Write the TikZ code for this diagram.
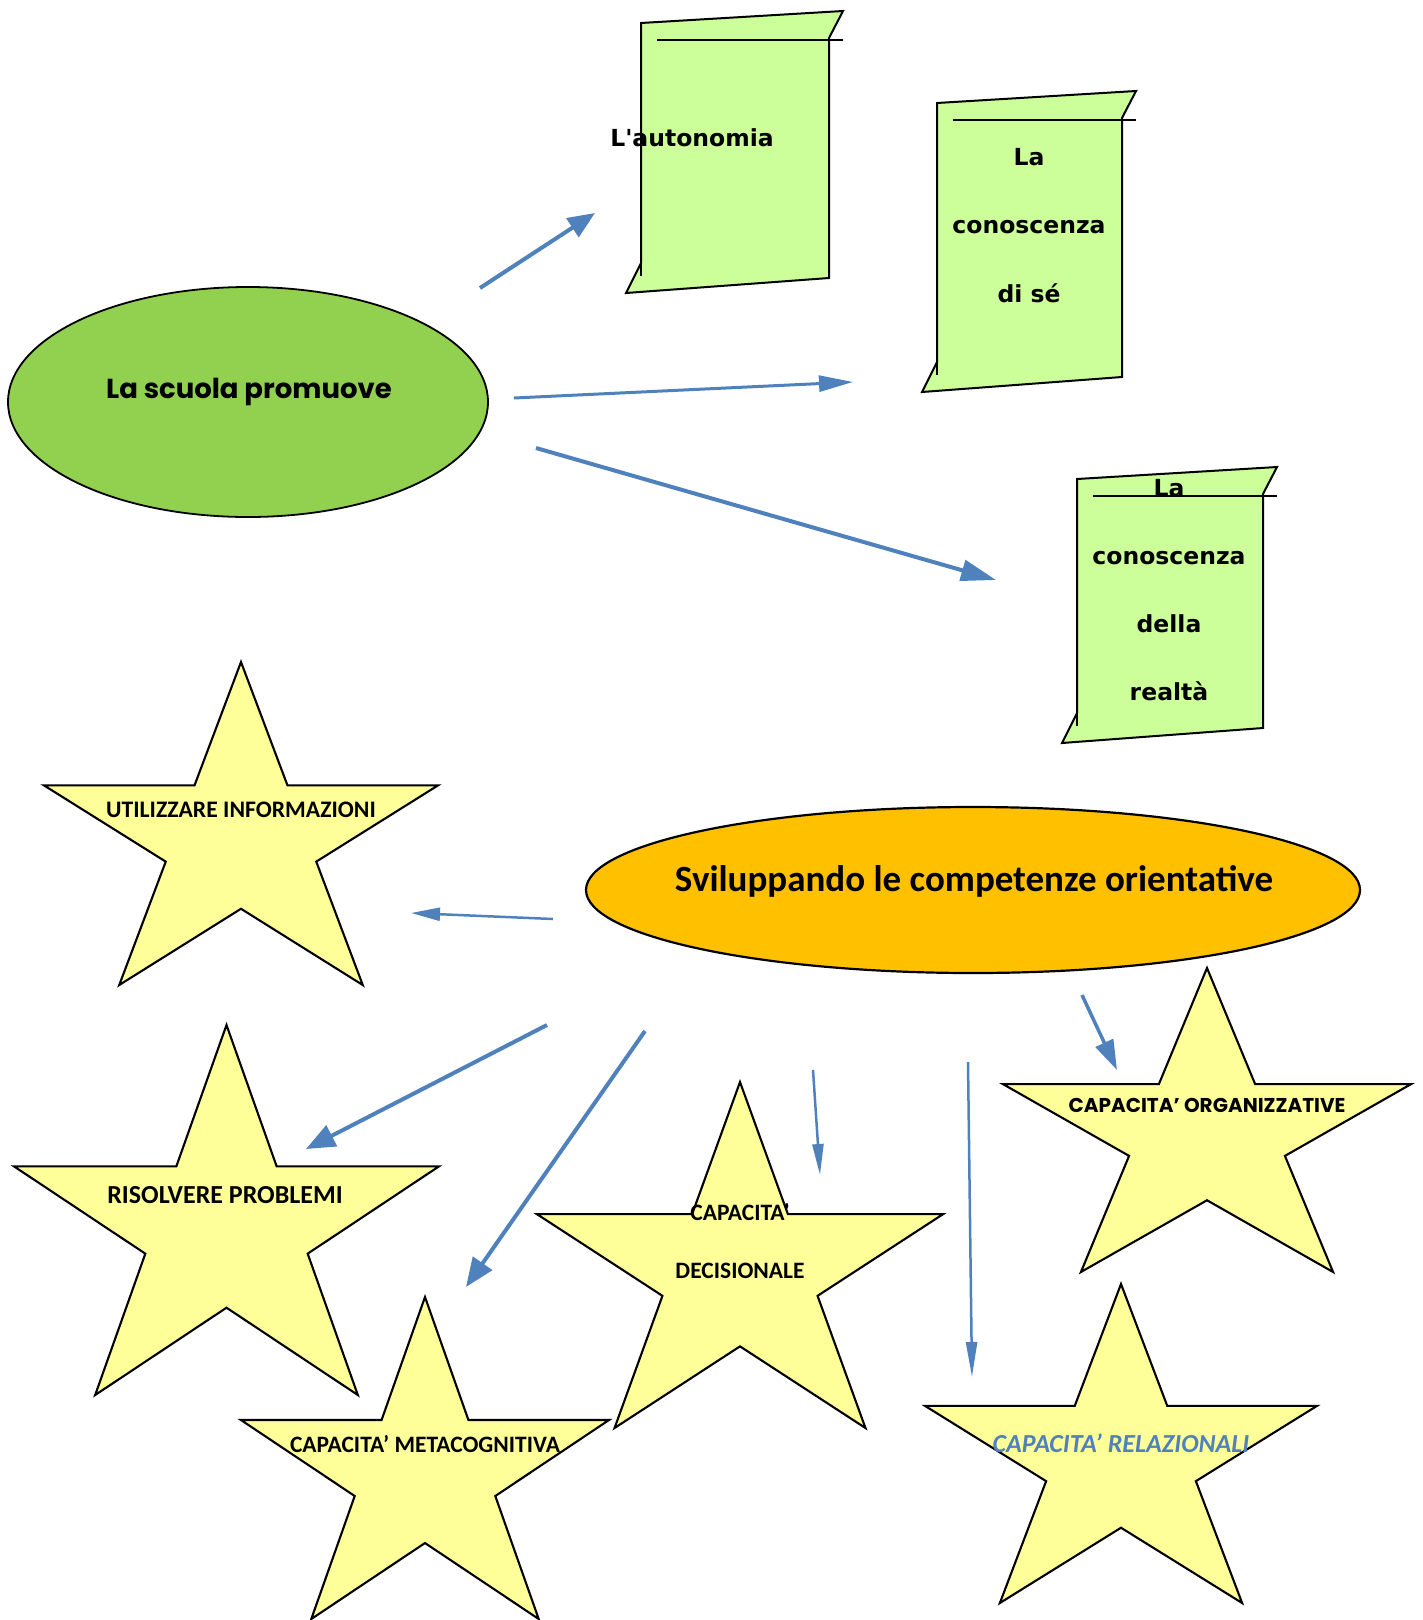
\documentclass[tikz,border=0pt]{standalone}
\usepackage{fontspec}
\setmainfont{Carlito}
\newfontfamily\gotico{Poppins}
\newfontfamily\verdana{DejaVu Sans}
\usepackage{tikz}
\usetikzlibrary{arrows.meta}
\usetikzlibrary{shapes.geometric}
\definecolor{verde}{HTML}{92D050}
\definecolor{verdino}{HTML}{CCFF99}
\definecolor{giallo}{HTML}{FFFF99}
\definecolor{arancio}{HTML}{FFC000}
\definecolor{blu}{HTML}{4F81BD}
\tikzset{punta/.style n args={2}{-{Triangle[length=#1,width=#2]}}}
\tikzset{stella/.pic={
  \draw[fill=giallo, draw=black, line width=2.1pt]
    (0,-1) -- (0.236,-0.236) -- (1,-0.236) -- (0.382,0.236) -- (0.618,1) -- (0,0.528)
    -- (-0.618,1) -- (-0.382,0.236) -- (-1,-0.236) -- (-0.236,-0.236) -- cycle;}}
% rotolo: x, y (spigolo in alto a sinistra), larghezza, altezza
\newcommand{\rotolo}[4]{%
  \draw[fill=verdino, draw=black, line width=2pt] (#1,#2) -- ({#1+#3+14},{#2-12}) -- ({#1+#3},{#2+15})
    -- ({#1+#3},{#2+#4}) -- ({#1-15},{#2+#4+15}) -- (#1,{#2+#4-15}) -- cycle;
  \draw[line width=2pt] ({#1+16},{#2+17}) -- ({#1+#3+14},{#2+17});
  \draw[line width=1.5pt] (#1,{#2+#4-15}) -- (#1,{#2+#4-2});}

\begin{document}
\begin{tikzpicture}[x=1pt, y=-1pt]
\tikzstyle{ovale} = [ellipse, draw=black, line width=1.8pt, inner sep=0pt]
\tikzstyle{scritta} = [anchor=base, inner sep=0pt, align=center]
\tikzstyle{freccia} = [draw=blu, line width=3.5pt]
\useasboundingbox (0,0) rectangle (1423,1620);

% parte alta
\node[ovale, fill=verde, minimum width=480, minimum height=230] (SCU) at (248,402) {};
\rotolo{641}{23}{188}{255}
\rotolo{937}{103}{185}{274}
\rotolo{1077}{479}{186}{249}

\node[scritta, font=\gotico\bfseries\fontsize{27.5}{30}\selectfont] (SCUt) at (249,398) {La scuola promuove};
\node[scritta, font=\verdana\bfseries\fontsize{23.5}{68}\selectfont] (AUT) at (692,146) {L'autonomia};
% ancora sulla base dell'ultima riga
\node[scritta, font=\verdana\bfseries\fontsize{23.5}{68.5}\selectfont] (CDS) at (1029,302) {La\\conoscenza\\di sé};
\node[scritta, font=\verdana\bfseries\fontsize{23.5}{68}\selectfont] (CDR) at (1169,700) {La\\conoscenza\\della\\realtà};

\coordinate (a0s) at (480,288);  \coordinate (a0e) at (595,213);
\coordinate (a1s) at (514,398);  \coordinate (a1e) at (853,382);
\coordinate (a2s) at (536,448);  \coordinate (a2e) at (996,580);
\draw[freccia, line width=4pt, punta={27pt}{22pt}] (a0s) -- (a0e);
\draw[freccia, line width=3pt, punta={34pt}{16pt}] (a1s) -- (a1e);
\draw[freccia, line width=4pt, punta={35pt}{21pt}] (a2s) -- (a2e);

% parte bassa
\node[ovale, fill=arancio, line width=2.2pt, minimum width=774, minimum height=166] (SVI) at (973,890) {};
\pic[xscale=197, yscale=161.5] at (241,823.5) {stella};
\pic[xscale=212.5, yscale=185] at (226.5,1210) {stella};
\pic[xscale=203, yscale=173] at (740,1255) {stella};
\pic[xscale=184, yscale=161] at (425,1458) {stella};
\pic[xscale=196, yscale=159.5] at (1121,1443.5) {stella};
\pic[xscale=204, yscale=152] at (1207,1120) {stella};

\node[scritta, font=\bfseries\fontsize{37}{40}\selectfont] (SVIt) at (974,891) {Sviluppando le competenze orientative};
\node[scritta, font=\bfseries\fontsize{23.7}{28}\selectfont] (UTI) at (241,817) {UTILIZZARE INFORMAZIONI};
\node[scritta, font=\bfseries\fontsize{26}{28}\selectfont] (RIS) at (225,1203) {RISOLVERE PROBLEMI};
\node[scritta, font=\bfseries\fontsize{23.5}{58}\selectfont] (DEC) at (740,1278) {CAPACITA'\\DECISIONALE};
\node[scritta, font=\bfseries\fontsize{23.5}{28}\selectfont] (MET) at (425,1452) {CAPACITA’ METACOGNITIVA};
\node[scritta, font=\bfseries\itshape\fontsize{26}{28}\selectfont, text=blu] (REL) at (1121,1452) {CAPACITA’ RELAZIONALI};
\node[scritta, font=\gotico\bfseries\fontsize{20}{22}\selectfont] (ORG) at (1207,1112) {CAPACITA’ ORGANIZZATIVE};

\coordinate (b0s) at (553,919);  \coordinate (b0e) at (411,913);
\coordinate (b1s) at (547,1025); \coordinate (b1e) at (306,1149);
\coordinate (b2s) at (645,1031); \coordinate (b2e) at (466,1287);
\coordinate (b3s) at (813,1070); \coordinate (b3e) at (820,1175);
\coordinate (b4s) at (968,1062); \coordinate (b4e) at (972,1377);
\coordinate (b5s) at (1082,995); \coordinate (b5e) at (1117,1070);
\draw[freccia, line width=2.5pt, punta={29pt}{13pt}] (b0s) -- (b0e);
\draw[freccia, line width=4pt, punta={29pt}{23pt}] (b1s) -- (b1e);
\draw[freccia, line width=4pt, punta={29pt}{23pt}] (b2s) -- (b2e);
\draw[freccia, line width=2.5pt, punta={31pt}{11pt}] (b3s) -- (b3e);
\draw[freccia, line width=2.5pt, punta={35pt}{11pt}] (b4s) -- (b4e);
\draw[freccia, line width=3.5pt, punta={30pt}{19pt}] (b5s) -- (b5e);
\end{tikzpicture}
\end{document}
